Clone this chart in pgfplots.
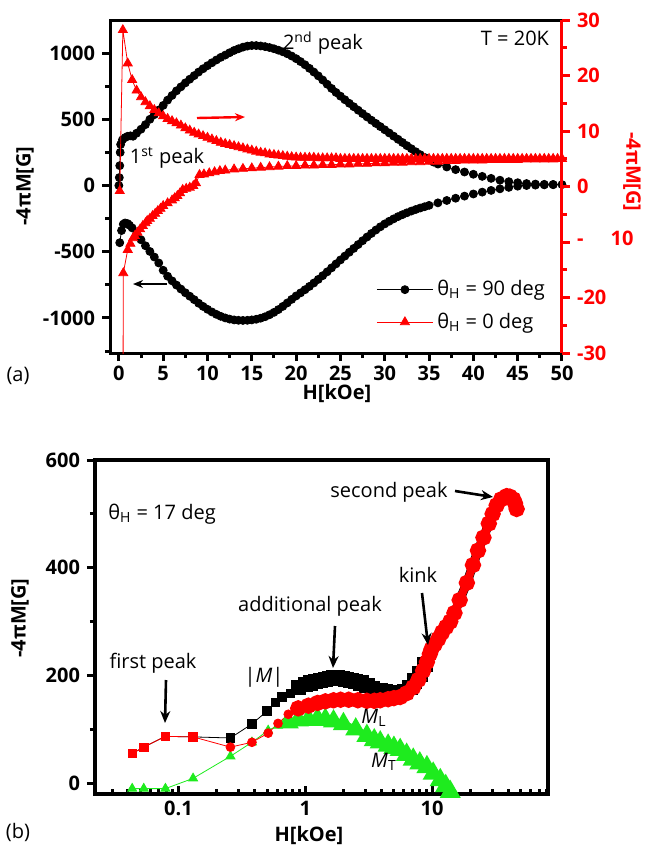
\documentclass[border=0pt]{standalone}
\usepackage{pgfplots}
\pgfplotsset{compat=1.18}
\usepackage{fontspec}
\setmainfont{Open Sans}
\usetikzlibrary{arrows.meta}
\definecolor{mygreen}{RGB}{30,235,30}
\newcommand\ann{\fontsize{10}{12}\selectfont}
\begin{document}
\begin{tikzpicture}
\path[use as bounding box] (0,0) rectangle (322.5pt,-426pt);
% ---------------- panel (a), left axis ----------------
\begin{axis}[
 at={(55pt,-10pt)}, anchor=north west,
 scale only axis, width=226pt, height=166.5pt,
 xmin=-1, xmax=50, ymin=-1265, ymax=1250,
 axis line style={line width=1.5pt},
 xtick={0,5,...,50}, minor xtick={2.5,7.5,...,47.5},
 ytick={-1000,-500,0,500,1000}, minor ytick={-1250,-750,-250,250,750},
 tick align=outside, tick pos=left,
 major tick length=4pt, minor tick length=2.5pt,
 every tick/.style={line width=1.5pt, black},
 ticklabel style={font=\bfseries\ann},
 xticklabel style={yshift=1pt},
 /pgf/number format/assume math mode=true,
 /pgf/number format/1000 sep={},
 legend style={at={(0.985,0.04)}, anchor=south east, draw=none, fill=none, font=\ann, row sep=3pt},
 legend cell align=left,
 legend image code/.code={\draw[mark repeat=2,mark phase=2,#1] plot coordinates {(0pt,0pt) (14pt,0pt) (28pt,0pt)};},
]
\addplot[black, thin, mark=*, mark size=2pt] coordinates {
(0,0) (0.05,60) (0.1,150) (0.15,250) (0.2,310) (0.4,345) (0.7,362) (1.0,372) (1.3,375) (1.6,372)
(2.0,395) (2.5,425) (3.0,460) (3.5,500) (4.0,535) (4.5,570) (5.0,605) (5.5,645) (6.0,680) (6.5,715)
(7.0,745) (7.5,775) (8.0,803) (8.5,830) (9.0,857) (9.5,882) (10.0,905) (10.5,927) (11.0,948) (11.5,968)
(12.0,985) (12.5,1003) (13.0,1020) (13.5,1033) (14.0,1045) (14.5,1053) (15.0,1057) (15.5,1057) (16.0,1054)
(16.5,1049) (17.0,1042) (17.5,1033) (18.0,1022) (18.5,1010) (19.0,995) (19.5,978) (20.0,958) (20.5,936)
(21.0,912) (21.5,885) (22.0,857) (22.5,828) (23.0,797) (23.5,765) (24.0,733) (24.5,703) (25.0,675)
(25.5,648) (26.0,621) (26.5,595) (27.0,569) (27.5,543) (28.0,518) (28.5,493) (29.0,469) (29.5,445)
(30.0,421) (30.5,397) (31.0,373) (31.5,349) (32.0,325) (32.5,301) (33.0,278) (33.5,255) (34.0,233)
(34.5,212) (35.0,193) (35.5,177) (36.0,162) (37.0,140) (38.0,120) (39.0,102) (40.0,85) (41.0,69)
(42.0,54) (43.0,40) (44.0,29) (45.0,21) (46.0,15) (47.0,11) (48.0,9) (49.0,8) (50.0,7)
(49,6) (48,5) (47,3) (46,0) (45,-5) (44,-14) (43,-25) (42,-37) (41,-50) (40,-64) (39,-80) (38,-96)
(37,-113) (36,-131) (35,-150) (34.5,-160) (34,-170) (33.5,-181) (33,-193) (32.5,-206) (32,-220)
(31.5,-235) (31,-252) (30.5,-270) (30,-290) (29.5,-312) (29,-336) (28.5,-362) (28,-389) (27.5,-417)
(27,-446) (26.5,-475) (26,-504) (25.5,-533) (25,-562) (24.5,-592) (24,-622) (23.5,-652) (23,-681)
(22.5,-709) (22,-736) (21.5,-762) (21,-787) (20.5,-811) (20,-834) (19.5,-860) (19,-887) (18.5,-913)
(18,-937) (17.5,-958) (17,-976) (16.5,-991) (16,-1002) (15.5,-1010) (15,-1015) (14.5,-1018) (14,-1019)
(13.5,-1018) (13,-1015) (12.5,-1009) (12,-1000) (11.5,-988) (11,-973) (10.5,-955) (10,-935) (9.5,-913)
(9,-889) (8.5,-862) (8,-836) (7.5,-810) (7,-782) (6.5,-752) (6,-720) (5.5,-685) (5,-640) (4.5,-585)
(4,-540) (3.5,-498) (3,-455) (2.5,-410) (2,-365) (1.5,-320) (1.2,-300) (1.0,-288) (0.7,-283) (0.5,-292)
(0.3,-340) (0.1,-432)
};
\addlegendentry{θ\textsubscript{H} = 90 deg}
\addlegendimage{red, thin, mark=triangle*, mark size=2.6pt}
\addlegendentry{θ\textsubscript{H} = 0 deg}
\end{axis}
% ---------------- panel (a), right axis ----------------
\begin{axis}[
 at={(55pt,-10pt)}, anchor=north west,
 scale only axis, width=226pt, height=166.5pt,
 xmin=-1, xmax=50, ymin=-30, ymax=30,
 axis x line=none, axis y line*=right,
 axis line style={red, line width=1.5pt},
 ytick={-30,-20,-10,0,10,20,30}, yticklabels={-30,-20,-,0,10,20,30},
 minor ytick={-25,-15,-5,5,15,25},
 tick align=outside,
 major tick length=4pt, minor tick length=2.5pt,
 every tick/.style={line width=1.5pt, red},
 yticklabel style={font=\bfseries\ann, text=red},
]
\addplot[red, thin, mark=triangle*, mark size=2.6pt] coordinates {
(0.1,-0.8) (0.45,28.2) (1.0,22.2) (1.5,19.2) (2.0,17.3) (2.5,16.1) (3.0,15.2) (3.5,14.5) (4.0,13.8)
(4.5,13.2) (5.0,12.7) (5.5,12.2) (6.0,11.8) (6.5,11.4) (7.0,11.0) (7.5,10.5) (8.0,10.1) (8.5,9.7)
(9.0,9.4) (9.5,9.1) (10,8.8) (10.5,8.5) (11,8.2) (11.5,7.9) (12,7.7) (12.5,7.5) (13,7.3) (13.5,7.1)
(14,6.9) (14.5,6.7) (15,6.5) (15.5,6.3) (16,6.1) (16.5,6.0) (17,5.8) (17.5,5.7) (18,5.6) (18.5,5.5)
(19,5.4) (19.5,5.3) (20,5.25) (20.5,5.2) (21,5.2) (21.5,5.2) (22,5.2) (22.5,5.1) (23,5.1) (23.5,5.1)
(24,5.1) (24.5,5.1) (25,5.0) (25.5,5.0) (26,5.0) (26.5,5.0) (27,5.0) (27.5,5.0) (28,5.0) (28.5,5.0)
(29,5.0) (29.5,5.0) (30,5.0) (30.5,5.0) (31,5.0) (31.5,5.0) (32,5.0) (32.5,5.0) (33,5.0) (33.5,5.0)
(34,5.0) (34.5,5.0) (35,5.0) (35.5,5.0) (36,5.0) (36.5,5.0) (37,5.0) (37.5,5.0) (38,5.0) (38.5,5.0)
(39,5.0) (39.5,5.0) (40,5.0) (40.5,5.0) (41,5.0) (41.5,5.0) (42,5.0) (42.5,5.0) (43,5.0) (43.5,5.0)
(44,5.0) (44.5,5.0) (45,5.0) (45.5,5.0) (46,5.0) (46.5,5.0) (47,5.0) (47.5,5.0) (48,5.0) (48.5,5.0)
(49,5.0) (49.5,5.0) (50,5.0)
(49,4.9) (48,4.9) (47,4.9) (46,4.9) (45,4.8) (44,4.8) (43,4.8) (42,4.8) (41,4.7) (40,4.7) (39,4.7)
(38,4.6) (37,4.6) (36,4.5) (35,4.5) (34,4.4) (33,4.4) (32,4.3) (31,4.3) (30,4.2) (29,4.2) (28,4.1)
(27,4.1) (26,4.0) (25,4.0) (24,3.9) (23,3.9) (22,3.8) (21,3.8) (20,3.7) (19,3.7) (18,3.6) (17,3.5)
(16,3.4) (15,3.3) (14,3.2) (13,3.1) (12,2.9) (11.4,2.8) (10.8,2.6) (10.2,2.4) (9.6,2.2) (9.1,2.1)
(8.7,0.6) (8.4,0.1) (8.0,-0.2) (7.6,-0.4) (7.2,-0.6) (6.9,-1.2) (6.6,-1.7) (6.3,-2.1) (6.0,-2.5)
(5.5,-3.0) (5.0,-3.5) (4.7,-4.0) (4.4,-4.4) (4.1,-4.9) (3.8,-5.3) (3.5,-5.8) (3.2,-6.2) (3.0,-6.6)
(2.7,-7.1) (2.4,-7.7) (2.1,-8.3) (1.8,-8.9) (1.6,-9.3) (1.3,-10.3) (1.0,-11.4) (0.5,-15.6) (0.45,-50)
};
\end{axis}
% ---------------- panel (b) ----------------
\begin{axis}[
 at={(47.5pt,-230pt)}, anchor=north west,
 scale only axis, width=226.5pt, height=167pt,
 xmode=log, xmin=0.022, xmax=82, ymin=-20, ymax=600,
 axis line style={line width=2pt},
 xtick={0.1,1,10}, xticklabels={0.1,1,10},
 minor xtick={0.03,0.04,0.05,0.06,0.07,0.08,0.09,0.2,0.3,0.4,0.5,0.6,0.7,0.8,0.9,2,3,4,5,6,7,8,9,20,30,40,50,60,70,80},
 ytick={0,200,400,600}, minor ytick={100,300,500},
 tick pos=left, xtick align=inside, ytick align=outside,
 major tick length=4pt, minor tick length=2.5pt,
 every tick/.style={line width=1.5pt, black},
 ticklabel style={font=\bfseries\ann},
 /pgf/number format/assume math mode=true,
]
% |M| black
\addplot[black, thin, mark=square*, mark size=2.1pt] coordinates {
(0.0432,55) (0.0533,67) (0.079,87) (0.1305,86) (0.257,84) (0.38,110) (0.50,134) (0.58,150) (0.655,160)
(0.762,167) (0.88,178) (1.0,183)
};
\addplot[black, line width=3.5pt, mark=square*, mark size=2.1pt] coordinates {
(0.88,178) (1.0,183) (1.1,186) (1.2,189) (1.32,191) (1.44,193) (1.55,194) (1.67,195) (1.8,195)
(1.95,194) (2.1,193) (2.3,191) (2.5,189) (2.75,186) (3.06,181) (3.4,176) (3.9,171) (4.3,169)
(4.67,168) (5.1,167) (5.6,167) (6.1,170) (6.7,178) (7.3,190) (8.05,203) (8.8,220)
};
\addplot[black, line width=4.5pt] coordinates {
(8.8,220) (9.6,240)
(9.9,249) (10.5,258) (11.2,268) (12,280) (12.9,290) (13.9,300) (15,316) (16.5,340) (18.8,372)
(21,405) (23,432) (25.4,456) (28,482) (30,500) (32.3,517) (35,529) (38.7,535) (41,534) (43.7,528)
(45,521) (46.4,510)
};
% M_T green
\addplot[mygreen, thin, mark=triangle*, mark size=2.6pt] coordinates {
(0.0432,-10) (0.0533,-10) (0.079,-10) (0.1305,9) (0.257,50) (0.38,76) (0.51,98) (0.61,107) (0.735,113)
(0.88,117)
};
\addplot[mygreen, line width=3.5pt, mark=triangle*, mark size=2.6pt] coordinates {
(0.735,113) (0.88,117) (1.06,118) (1.25,119) (1.44,118) (1.67,115) (2.0,110) (2.5,100) (3.06,88)
(3.5,80) (3.9,76) (4.5,70) (5.0,66) (5.6,62) (6.3,53) (7.1,44) (8.0,37) (9.1,30) (10.2,18) (11.6,6)
(12.8,-5) (13.9,-16)
};
% M_L red
\addplot[red, thin, mark=*, mark size=2.2pt] coordinates {
(0.1305,86) (0.257,67) (0.38,76) (0.51,93) (0.61,111) (0.735,128) (0.88,139)
};
\addplot[red, thin, mark=square*, mark size=2.1pt] coordinates {
(0.0432,55) (0.0533,67) (0.079,87) (0.1305,86)
};
\addplot[red, line width=4pt, mark=*, mark size=2pt] coordinates {
(0.88,139) (1.06,144) (1.25,149) (1.44,152) (1.67,154) (1.9,155) (2.2,155) (2.6,154) (3.06,153)
(3.5,153) (3.9,154) (4.5,156) (5.0,158) (5.6,160) (6.3,167) (7.1,178) (7.8,192) (8.5,209) (9.1,225)
(9.6,240) (9.9,249) (10.5,258) (11.2,268) (12,280) (12.9,290) (13.9,300) (15,316) (16.5,340)
(18.8,372) (21,405) (23,432) (25.4,456) (28,482) (30,500) (32.3,516) (35,527) (38.7,533) (41,532)
(43.7,527) (45,520) (46.4,509)
};
\end{axis}
% ---------------- text and arrows (pixel coordinates) ----------------
\begin{scope}[x=0.5pt,y=-0.5pt]
% panel a
\node[rotate=90, font=\bfseries\ann] at (25,186) {-4πM[G]};
\node[rotate=-90, font=\bfseries\ann, text=red] at (632,172) {-4πM[G]};
\node[font=\bfseries\ann, text=red] at (622,238) {10};
\node[font=\bfseries\ann] at (337,393) {H[kOe]};
\node[font=\ann] at (18,376) {(a)};
\node[font=\ann] at (323,43) {2\textsuperscript{nd} peak};
\node[font=\ann] at (167,158) {1\textsuperscript{st} peak};
\node[font=\ann] at (515,38) {T = 20K};
\draw[red, line width=1.2pt, -{Stealth[length=5pt,width=4pt]}] (197,118) -- (245,117);
\draw[black, line width=1.2pt, -{Stealth[length=5pt,width=4pt]}] (167,284) -- (133,284);
% panel b
\node[rotate=90, font=\bfseries\ann] at (20,618) {-4πM[G]};
\node[font=\bfseries\ann] at (309,835) {H[kOe]};
\node[font=\ann] at (18,832) {(b)};
\node[font=\ann] at (162,514) {θ\textsubscript{H} = 17 deg};
\node[font=\ann] at (389,492) {second peak};
\draw[line width=1.3pt, -{Stealth[length=6pt,width=5pt]}] (455,491) -- (493,497);
\node[font=\ann] at (418,575) {kink};
\draw[line width=1.3pt, -{Stealth[length=6pt,width=5pt]}] (422,593) -- (428,645);
\node[font=\ann] at (310,606) {additional peak};
\draw[line width=1.3pt, -{Stealth[length=6pt,width=5pt]}] (335,626) -- (333,668);
\node[font=\ann] at (153,663) {first peak};
\draw[line width=1.3pt, -{Stealth[length=6pt,width=5pt]}] (166,680) -- (165,723);
\node[font=\ann] at (264,677) {|\textit{M}|};
\node[font=\ann] at (374,718) {\textit{M}\textsubscript{L}};
\node[font=\ann] at (384,762) {\textit{M}\textsubscript{T}};
\end{scope}
\end{tikzpicture}
\end{document}
